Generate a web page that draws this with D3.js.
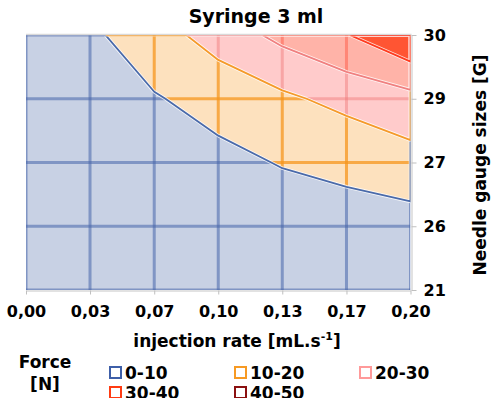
<!DOCTYPE html>
<html>
<head>
<meta charset="utf-8">
<script src="https://cdn.jsdelivr.net/npm/d3@7"></script>
<style>
body { margin: 0; background: #fff; }
text { font-family: "DejaVu Sans", sans-serif; font-weight: bold; fill: #000; }
</style>
</head>
<body>
<div id="main"></div>
<script>
// injection rate (mL/s) along x, needle gauge along y
var rates = [0, 0.0333, 0.0667, 0.1, 0.1333, 0.1667, 0.2];
var gauges = ['21', '26', '27', '29', '30'];

var force21 = [1.0, 1.5, 2.0, 2.3, 2.6, 3.0, 3.4];
var force26 = [2.5, 3.2, 4.0, 4.5, 4.9, 7.4, 6.0];
var force27 = [3.2, 4.5, 6.0, 7.6, 10.5, 11.6, 16.3];
var force29 = [4.0, 6.0, 9.3, 13.3, 18.1, 23.1, 26.8];
var force30 = [5.0, 8.2, 15.7, 24.3, 32.6, 39.5, 49.5];

var bands = ['0-10', '10-20', '20-30', '30-40', '40-50'];
var thresholds = [10, 20, 30, 40];

var fills = ['#c8d1e4', '#fde1be', '#ffcbcb', '#ffb3a8', '#ff5533'];
var meshColors = ['rgba(70,100,170,0.55)', 'rgba(245,150,30,0.75)', 'rgba(240,120,120,0.45)', 'rgba(255,90,70,0.5)', 'rgba(255,40,20,0.8)'];
var lineColors = ['#4a6aaa', '#f59a2a', '#f08080', '#ff3b1f'];
var legendColors = ['#3e5fa8', '#f79a23', '#ff9a9a', '#ff3b12', '#8b1010'];

var width = 499, height = 398;
var pl = 26, pr = 410.5, pt = 35, pb = 290;

var svg = d3.select('#main').append('svg')
    .attr('width', width).attr('height', height);

var x = d3.scaleLinear().domain([0, 0.2]).range([pl, pr]);
var y = d3.scalePoint().domain(gauges).range([pb, pt]);

var n = rates.length, m = gauges.length;
var grid = [].concat(force21, force26, force27, force29, force30);
var contours = d3.contours().size([n, m]).thresholds(thresholds)(grid);

// contour grid coords -> pixels (value i sits at i + 0.5)
var idxRate = d3.scaleLinear().domain(d3.range(n)).range(rates);
var idxGauge = d3.scaleLinear().domain([0, m - 1]).range([y(gauges[0]), y(gauges[m - 1])]);
function clamp(v, hi) { return Math.max(0, Math.min(hi, v)); }
var path = d3.geoPath(d3.geoTransform({
    point: function(a, b) {
        this.stream.point(x(idxRate(clamp(a - 0.5, n - 1))), idxGauge(clamp(b - 0.5, m - 1)));
    }
}));

var defs = svg.append('defs');
defs.append('clipPath').attr('id', 'plotClip').append('rect')
    .attr('x', pl).attr('y', pt).attr('width', pr - pl).attr('height', pb - pt);
defs.append('clipPath').attr('id', 'innerClip').append('rect')
    .attr('x', pl + 1.5).attr('y', pt + 1.5).attr('width', pr - pl - 1.5).attr('height', pb - pt - 3);

var plot = svg.append('g').attr('clip-path', 'url(#plotClip)');

bands.forEach(function(b, k) {
    var clip = defs.append('clipPath').attr('id', 'band' + k);
    var region;
    if (k === 0) {
        clip.append('rect').attr('x', pl).attr('y', pt).attr('width', pr - pl).attr('height', pb - pt);
        region = plot.append('rect').attr('x', pl).attr('y', pt).attr('width', pr - pl).attr('height', pb - pt);
    } else {
        clip.append('path').attr('d', path(contours[k - 1]));
        region = plot.append('path').attr('d', path(contours[k - 1]));
    }
    region.attr('fill', fills[k]);

    var mesh = plot.append('g').attr('clip-path', 'url(#band' + k + ')')
        .attr('stroke', meshColors[k]).attr('stroke-width', 3);
    mesh.selectAll('line.v').data(rates).join('line').attr('class', 'v')
        .attr('x1', function(d) { return x(d); }).attr('x2', function(d) { return x(d); })
        .attr('y1', pt).attr('y2', pb);
    mesh.selectAll('line.h').data(gauges).join('line').attr('class', 'h')
        .attr('x1', pl).attr('x2', pr)
        .attr('y1', function(d) { return y(d); }).attr('y2', function(d) { return y(d); });
});

// contour boundaries
var lines = svg.append('g').attr('clip-path', 'url(#innerClip)').attr('fill', 'none');
contours.forEach(function(c, k) {
    lines.append('path').attr('d', path(c))
        .attr('stroke', 'rgba(255,255,255,0.8)').attr('stroke-width', 3.5).attr('stroke-linejoin', 'round');
    lines.append('path').attr('d', path(c))
        .attr('stroke', lineColors[k]).attr('stroke-width', 1.8).attr('stroke-linejoin', 'round');
});

// border on top
svg.append('line').attr('x1', pl).attr('x2', pr + 1).attr('y1', pt - 0.5).attr('y2', pt - 0.5)
    .attr('stroke', '#d9d9d9').attr('stroke-width', 1.5);

var fmt = d3.formatLocale({ decimal: ',', thousands: '.', grouping: [3], currency: ['', ''] }).format('.2f');

var xAxis = svg.append('g').attr('transform', 'translate(0,' + (pb + 0.5) + ')')
    .call(d3.axisBottom(x).tickValues(rates).tickFormat(fmt).tickSize(4).tickPadding(11).tickSizeOuter(0));
var yAxis = svg.append('g').attr('transform', 'translate(' + (pr + 1) + ',0)')
    .call(d3.axisRight(y).tickSize(5).tickPadding(7).tickSizeOuter(0));

[xAxis, yAxis].forEach(function(a) {
    a.select('.domain').attr('stroke', '#d9d9d9').attr('stroke-width', 1.5);
    a.selectAll('.tick line').attr('stroke', '#bfbfbf');
    a.selectAll('.tick text').style('font-family', '"DejaVu Sans", sans-serif')
        .style('font-weight', 'bold').style('font-size', '16px').attr('fill', '#000');
});

svg.append('text').attr('x', 256).attr('y', 23).attr('text-anchor', 'middle')
    .style('font-size', '19px').text('Syringe 3 ml');

var xt = svg.append('text').attr('x', 237).attr('y', 347).attr('text-anchor', 'middle')
    .style('font-size', '17px');
xt.append('tspan').text('injection rate [mL.s');
xt.append('tspan').attr('dy', -7).style('font-size', '11px').text('-1');
xt.append('tspan').attr('dy', 7).text(']');

svg.append('text').attr('transform', 'translate(486,165) rotate(-90)').attr('text-anchor', 'middle')
    .style('font-size', '17px').text('Needle gauge sizes [G]');

// legend
svg.append('text').attr('x', 45).attr('y', 368).attr('text-anchor', 'middle')
    .style('font-size', '17px').text('Force');
svg.append('text').attr('x', 45).attr('y', 390).attr('text-anchor', 'middle')
    .style('font-size', '17px').text('[N]');

var legendX = [110, 235, 360], legendY = [367, 387];
var item = svg.selectAll('g.legend').data(bands).join('g').attr('class', 'legend')
    .attr('transform', function(d, i) { return 'translate(' + legendX[i % 3] + ',' + legendY[Math.floor(i / 3)] + ')'; });
item.append('rect').attr('width', 11).attr('height', 11).attr('fill', '#fff')
    .attr('stroke', function(d, i) { return legendColors[i]; }).attr('stroke-width', 2);
item.append('text').attr('x', 15).attr('y', 11.5).style('font-size', '17px').text(function(d) { return d; });
</script>
</body>
</html>
